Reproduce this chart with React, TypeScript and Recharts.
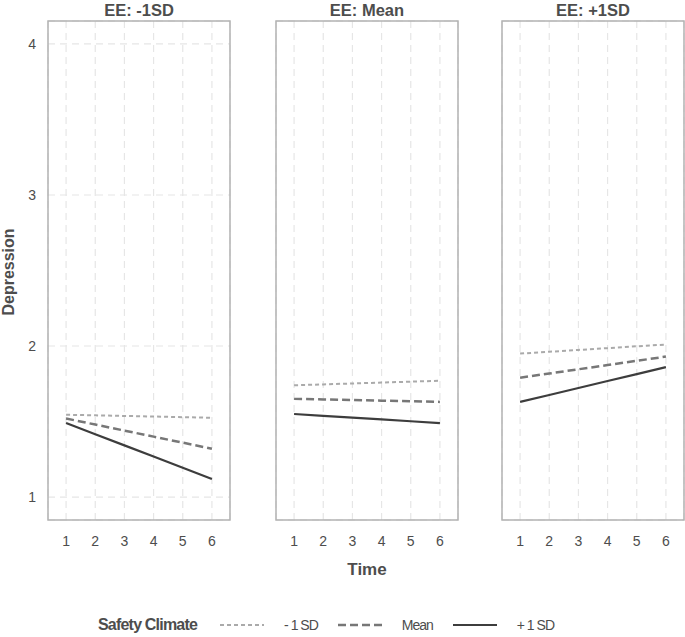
import React from 'react';
import { LineChart, Line, XAxis, YAxis, CartesianGrid, ReferenceArea } from 'recharts';

const times = [1, 2, 3, 4, 5, 6];
const panelTitles = ['EE: -1SD', 'EE: Mean', 'EE: +1SD'];

// Depression by safety climate level, one array per EE panel
const lowSC_lowEE = [1.545, 1.541, 1.537, 1.533, 1.529, 1.525];
const meanSC_lowEE = [1.52, 1.48, 1.44, 1.40, 1.36, 1.32];
const highSC_lowEE = [1.49, 1.416, 1.342, 1.268, 1.194, 1.12];

const lowSC_meanEE = [1.74, 1.746, 1.752, 1.758, 1.764, 1.77];
const meanSC_meanEE = [1.65, 1.646, 1.642, 1.638, 1.634, 1.63];
const highSC_meanEE = [1.55, 1.538, 1.526, 1.514, 1.502, 1.49];

const lowSC_highEE = [1.95, 1.962, 1.974, 1.986, 1.998, 2.01];
const meanSC_highEE = [1.79, 1.818, 1.846, 1.874, 1.902, 1.93];
const highSC_highEE = [1.63, 1.676, 1.722, 1.768, 1.814, 1.86];

const yTicks = [1, 2, 3, 4];
const legendLabels = ['- 1 SD', 'Mean', '+ 1 SD'];

const panels = [
  [lowSC_lowEE, meanSC_lowEE, highSC_lowEE],
  [lowSC_meanEE, meanSC_meanEE, highSC_meanEE],
  [lowSC_highEE, meanSC_highEE, highSC_highEE],
];

const SERIES = [
  { key: 'low', color: '#aaaaaa', dash: '4 3', width: 2 },
  { key: 'mean', color: '#777777', dash: '8 4', width: 2.5 },
  { key: 'high', color: '#3d3d3d', dash: undefined, width: 2.2 },
];

const X_DOMAIN: [number, number] = [0.38, 6.62];
const Y_DOMAIN: [number, number] = [0.848, 4.152];
const FONT = 'Liberation Sans, Arial, sans-serif';
const TEXT = '#4d4d4d';

const Panel = ({ idx }: { idx: number }) => {
  const [low, mean, high] = panels[idx];
  const data = times.map((t, i) => ({ t, low: low[i], mean: mean[i], high: high[i] }));
  const first = idx === 0;
  const left = [0, 228, 454][idx];
  const axisW = 48;

  return (
    <div style={{ position: 'absolute', left, top: 0 }}>
      <LineChart
        width={240}
        height={560}
        data={data}
        margin={{ top: 21, right: 10, left: 0, bottom: 0 }}
      >
        <CartesianGrid stroke="#e6e6e6" strokeDasharray="7 5" strokeWidth={1.2} />
        <XAxis
          dataKey="t"
          type="number"
          domain={X_DOMAIN}
          ticks={times}
          allowDataOverflow
          axisLine={false}
          tickLine={false}
          tickSize={0}
          tickMargin={16}
          height={40}
          tick={{ fill: TEXT, fontSize: 14, fontFamily: FONT }}
        />
        <YAxis
          type="number"
          domain={Y_DOMAIN}
          ticks={yTicks}
          allowDataOverflow
          axisLine={false}
          tickLine={false}
          tickSize={0}
          tickMargin={12}
          width={axisW}
          tick={first ? { fill: TEXT, fontSize: 14, fontFamily: FONT } : false}
        />
        <ReferenceArea
          x1={X_DOMAIN[0]}
          x2={X_DOMAIN[1]}
          y1={Y_DOMAIN[0]}
          y2={Y_DOMAIN[1]}
          fill="none"
          stroke="#b3b3b3"
          strokeWidth={1.5}
          ifOverflow="visible"
        />
        {SERIES.map((s) => (
          <Line
            key={s.key}
            dataKey={s.key}
            type="linear"
            stroke={s.color}
            strokeWidth={s.width}
            strokeDasharray={s.dash}
            dot={false}
            activeDot={false}
            isAnimationActive={false}
          />
        ))}
      </LineChart>
      <div
        style={{
          position: 'absolute',
          left: axisW,
          width: 182,
          top: 0,
          textAlign: 'center',
          fontFamily: FONT,
          fontWeight: 'bold',
          fontSize: 16.5,
          lineHeight: '20px',
          color: TEXT,
        }}
      >
        {panelTitles[idx]}
      </div>
    </div>
  );
};

const LegendLine = ({ s }: { s: (typeof SERIES)[number] }) => (
  <svg width={44} height={10} style={{ display: 'block' }}>
    <line x1={0} x2={44} y1={5} y2={5} stroke={s.color} strokeWidth={s.width} strokeDasharray={s.dash} />
  </svg>
);

export default function App() {
  return (
    <div
      style={{
        position: 'absolute',
        left: 0,
        top: 0,
        width: 685,
        height: 637,
        background: '#ffffff',
        overflow: 'hidden',
      }}
    >
      {[0, 1, 2].map((i) => (
        <Panel key={i} idx={i} />
      ))}
      <div
        style={{
          position: 'absolute',
          left: 9,
          top: 272,
          transform: 'translate(-50%, -50%) rotate(-90deg)',
          fontFamily: FONT,
          fontWeight: 'bold',
          fontSize: 16,
          lineHeight: '16px',
          color: TEXT,
          whiteSpace: 'nowrap',
        }}
      >
        Depression
      </div>
      <div
        style={{
          position: 'absolute',
          left: 367,
          top: 570,
          transform: 'translate(-50%, -50%)',
          fontFamily: FONT,
          fontWeight: 'bold',
          fontSize: 17,
          color: TEXT,
        }}
      >
        Time
      </div>
      <div
        style={{
          position: 'absolute',
          left: 98,
          top: 616,
          display: 'flex',
          alignItems: 'center',
          fontFamily: FONT,
          fontSize: 14,
          color: TEXT,
        }}
      >
        <span style={{ fontWeight: 'bold', fontSize: 16, letterSpacing: -0.8, marginRight: 23 }}>
          Safety Climate
        </span>
        {SERIES.map((s, i) => (
          <React.Fragment key={s.key}>
            <LegendLine s={s} />
            <span style={{ marginLeft: 20, marginRight: 20, letterSpacing: -1 }}>{legendLabels[i]}</span>
          </React.Fragment>
        ))}
      </div>
    </div>
  );
}
